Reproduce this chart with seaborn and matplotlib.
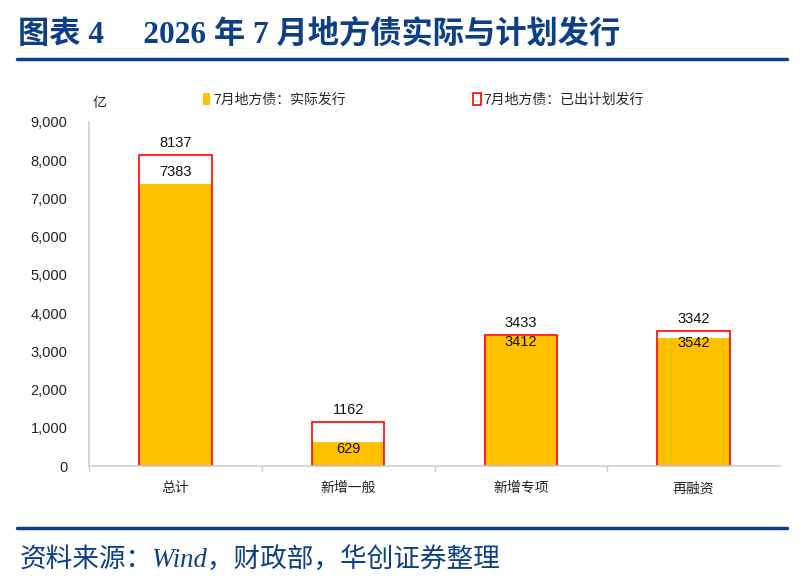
import matplotlib
matplotlib.use("Agg")
import matplotlib.pyplot as plt
import matplotlib.ticker as mticker
from matplotlib.patches import Patch
from matplotlib.lines import Line2D
import seaborn as sns
import pandas as pd

categories = ["总计", "新增一般", "新增专项", "再融资"]
# bar heights as drawn in the chart
actual = [7383, 629, 3412, 3342]
planned = [8137, 1162, 3433, 3542]
# numbers printed on the chart
actual_text = ["7383", "629", "3412", "3542"]
planned_text = ["8137", "1162", "3433", "3342"]
yticks = [0, 1000, 2000, 3000, 4000, 5000, 6000, 7000, 8000, 9000]

sns.set_style("white")
plt.rcParams["font.family"] = ["Liberation Sans", "Noto Sans CJK SC"]
plt.rcParams["axes.unicode_minus"] = False

df = pd.DataFrame({"cat": categories, "actual": actual, "planned": planned})

fig = plt.figure(figsize=(8.05, 5.86), dpi=100)
ax = fig.add_axes([89 / 805, 1 - 466 / 586, (780 - 89) / 805, (466 - 122) / 586])

orange = "#FFC000"
red = "#FF0000"
blue = "#0D3F85"

sns.barplot(data=df, x="cat", y="actual", color=orange, saturation=1,
            width=0.42, linewidth=0, ax=ax)
sns.barplot(data=df, x="cat", y="planned", color=red, fill=False,
            width=0.42, linewidth=1.2, ax=ax)

ax.set_ylim(0, 9000)
ax.set_xlim(-0.5, 3.5)
ax.set_yticks(yticks)
ax.yaxis.set_major_formatter(mticker.FuncFormatter(lambda v, p: f"{int(v):,}"))
ax.tick_params(axis="y", length=0, pad=15.5, labelsize=10.5, colors="#222222")
ax.tick_params(axis="x", length=0, pad=11, labelsize=10, colors="#222222")
ax.set_xlabel("")
ax.set_ylabel("")
for s in ["top", "right"]:
    ax.spines[s].set_visible(False)
for s in ["left", "bottom"]:
    ax.spines[s].set_color("#d0d0d0")
    ax.spines[s].set_linewidth(1.2)

# boundary ticks on x axis
for b in [-0.5, 0.5, 1.5, 2.5]:
    ax.plot([b, b], [0, -130], color="#d0d0d0", lw=1, clip_on=False)

# value labels
actual_dy = [12, -7, -6, -5]
for i in range(len(categories)):
    ax.annotate(planned_text[i], (i, planned[i]), xytext=(0, 12), textcoords="offset pixels",
                ha="center", va="center", fontsize=10.5, color="#111111")
    ax.annotate(actual_text[i], (i, actual[i]), xytext=(0, actual_dy[i]),
                textcoords="offset pixels", ha="center", va="center",
                fontsize=10.5, color="#111111")

fig.text(93 / 805, 1 - 103 / 586, "亿", fontsize=10, ha="left", va="center",
         color="#222222")

handles = [Patch(facecolor=orange, edgecolor="none"),
           Patch(facecolor="white", edgecolor=red, linewidth=1.2)]
fig.legend(handles, ["7月地方债：实际发行", "7月地方债：已出计划发行"],
           loc="center left", bbox_to_anchor=(190 / 805, 1 - 100 / 586), ncol=2,
           frameon=False, fontsize=10, handlelength=0.55, handleheight=0.9,
           handletextpad=0.2, columnspacing=9.2)

# title and frame lines
fig.text(18 / 805, 1 - 34 / 586, "图表 4     2026 年 7 月地方债实际与计划发行",
         family=["Liberation Serif", "Noto Sans CJK SC"], fontweight="bold",
         fontsize=22.5, color=blue, ha="left", va="center")
fig.add_artist(Line2D([17 / 805, 787 / 805], [1 - 59 / 586, 1 - 59 / 586],
                      color=blue, lw=2.5, transform=fig.transFigure))
fig.add_artist(Line2D([17 / 805, 787 / 805], [1 - 528 / 586, 1 - 528 / 586],
                      color=blue, lw=2.5, transform=fig.transFigure))
fig.text(20 / 805, 1 - 560 / 586, "资料来源：Wind，财政部，华创证券整理",
         family=["Liberation Serif", "Noto Sans CJK SC"], style="italic",
         fontsize=19.2, color=blue, ha="left", va="center")

fig.savefig("out.png", dpi=100)
